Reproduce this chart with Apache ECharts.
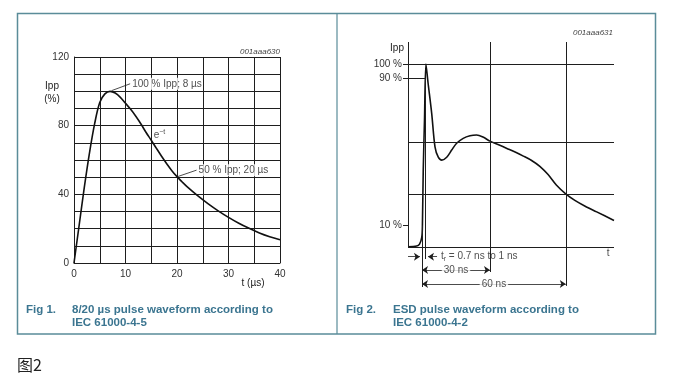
<!DOCTYPE html>
<html><head><meta charset="utf-8">
<script src="https://cdn.jsdelivr.net/npm/echarts@6/dist/echarts.min.js"></script>
<style>html,body{margin:0;padding:0;background:#fff}#c{width:679px;height:379px}</style>
</head><body><div id="c"></div>
<script>
// ---- Fig 1: 8/20 us pulse (t in us, Ipp in %) ----
const leftT = [0,1,2,3,4,5,6,7,8,9,10,11,12,13,14,15,16,17,18,19,20,21,22,24,26,28,30,32,34,36,38,40];
const leftI = [0,22,44,64,81,93.5,98.5,100,99,96.5,93,89.5,85.5,81,76,71.5,66.8,62.2,57.8,53.8,50.3,47.2,44.3,39.2,34.6,30.4,26.6,23.2,20.2,17.5,15.3,13.5];
const leftXLabels = [0,10,20,30,40];
const leftYLabels = [0,40,80,120];
const leftPeakNote = '100 % Ipp; 8 \u00b5s';
const leftHalfNote = '50 % Ipp; 20 \u00b5s';

// ---- Fig 2: ESD pulse (t in arbitrary ns-scale units, Ipp in %) ----
const rightT = [0,4.2,5.6,6.7,7.0,7.4,8.0,8.7,9.7,11.5,13.1,14.7,16.4,18.8,21.2,23.6,26.8,30.1,33.3,36.4,39.8,44,48,52,56,60,64,68,72,76.7,81,86,91.6,100];
const rightI = [0,0.4,1.5,5.3,11.9,42,69,100,90,73,54.7,49,47.4,49,52.9,56.6,59.3,60.7,61.1,60,57.8,55.8,53.8,51.8,49.6,47.2,44,39.5,33.8,28.8,25.4,22.2,19.1,14.4];
const rightYTickValues = [11.7, 92.3, 100];
const rightYTickLabels = ['10 %', '90 %', '100 %'];
const rightHLevels = [100, 57.4, 28.8];     // horizontal reference lines
const rightT10 = 6.8, rightT90 = 8.6;      // 10 % and 90 % crossing times
const rightT30 = 39.8, rightT60 = 76.6;    // 30 ns and 60 ns reference times
const riseNote = '{t|t}{s|r}{t| = 0.7 ns to 1 ns}';
const span30Note = '30 ns', span60Note = '60 ns';

const FONT = '"Liberation Sans", Arial, sans-serif';
const INK = '#1e1e1e';

const chart = echarts.init(document.getElementById('c'), null, {renderer: 'canvas'});

function seg(x1, y1, x2, y2) {
  return [{coord: [x1, y1]}, {coord: [x2, y2]}];
}

const rightLines = [];
rightLines.push(seg(0, 0, 0, 112));                  // y axis
rightLines.push(seg(0, 0, 100, 0));                  // baseline
rightHLevels.forEach(v => rightLines.push(seg(0, v, 100, v)));
rightLines.push(seg(0, rightYTickValues[1], rightT90, rightYTickValues[1]));  // 90 % guide
rightLines.push(seg(rightT30, 112, rightT30, -13.8));
rightLines.push(seg(rightT60, 112, rightT60, -21.4));
rightLines.push(seg(rightT10, rightYTickValues[0], rightT10, -22));
rightLines.push(seg(rightT90, rightYTickValues[1], rightT90, -6.7));

const arrowRows = [
  {data: seg(0, -5.4, 5.8, -5.4), symbol: ['none', 'arrow']},
  {data: seg(14.1, -5.4, 9.7, -5.4), symbol: ['none', 'arrow']},
  {data: seg(rightT10, -12.7, rightT30, -12.7), symbol: ['arrow', 'arrow']},
  {data: seg(rightT10, -20.3, rightT60, -20.3), symbol: ['arrow', 'arrow']}
];

const noteLabel = {show: true, color: '#222', fontSize: 10, fontFamily: FONT};

const option = {
  animation: false,
  backgroundColor: '#fff',
  textStyle: {fontFamily: FONT},
  grid: [
    {left: 74, right: 399, top: 57, bottom: 116},
    {left: 408, right: 65, top: 42, bottom: 92}
  ],
  xAxis: [
    {gridIndex: 0, type: 'value', min: 0, max: 40, interval: 5,
     axisLine: {lineStyle: {color: INK, width: 1}}, axisTick: {show: false},
     axisLabel: {color: '#333', fontSize: 10, margin: 6, fontFamily: FONT,
       formatter: v => leftXLabels.indexOf(v) >= 0 ? String(v) : ''},
     splitLine: {show: true, lineStyle: {color: INK, width: 1}}},
    {gridIndex: 1, type: 'value', min: 0, max: 100, show: false}
  ],
  yAxis: [
    {gridIndex: 0, type: 'value', min: 0, max: 120, interval: 10,
     axisLine: {show: true, lineStyle: {color: INK, width: 1}}, axisTick: {show: false},
     axisLabel: {color: '#333', fontSize: 10, margin: 5, fontFamily: FONT,
       formatter: v => leftYLabels.indexOf(v) >= 0 ? String(v) : ''},
     splitLine: {show: true, lineStyle: {color: INK, width: 1}}},
    {gridIndex: 1, type: 'value', min: -22, max: 112,
     axisLine: {show: false},
     axisTick: {show: true, customValues: rightYTickValues, length: 5, lineStyle: {color: INK}},
     axisLabel: {show: true, customValues: rightYTickValues, color: '#333', fontSize: 10, margin: 6, fontFamily: FONT,
       formatter: v => { const i = rightYTickValues.indexOf(v); return i >= 0 ? rightYTickLabels[i] : ''; }},
     splitLine: {show: false}}
  ],
  series: [
    {type: 'line', xAxisIndex: 0, yAxisIndex: 0, data: leftT.map((t, i) => [t, leftI[i]]),
     smooth: 0.35, showSymbol: false, lineStyle: {color: '#111', width: 1.6},
     markLine: {silent: true, symbol: 'none', label: {show: false}, lineStyle: {color: INK, width: 0.8, type: 'solid'},
       data: [seg(7.3, 100.4, 10.9, 104.4), seg(20.2, 50.4, 23.8, 54.1)]}},
    {type: 'scatter', xAxisIndex: 0, yAxisIndex: 0, symbolSize: 0, silent: true, z: 5,
     label: noteLabel,
     data: [
       {value: [10.9, 104.4], label: {position: 'right', distance: 1, formatter: leftPeakNote, backgroundColor: '#fff', padding: [1, 1]}},
       {value: [23.8, 54.1], label: {position: 'right', distance: 1, formatter: leftHalfNote, backgroundColor: '#fff', padding: [1, 1]}},
       {value: [16.6, 74.5], label: {position: 'inside', formatter: '{e|e}{s|\u2212t}',
         rich: {e: {fontSize: 10, color: '#222'}, s: {fontSize: 7, color: '#222', verticalAlign: 'top', padding: [0, 0, 6, 0]}}}}
     ]},
    {type: 'line', xAxisIndex: 1, yAxisIndex: 1, data: rightT.map((t, i) => [t, rightI[i]]),
     smooth: 0.3, showSymbol: false, lineStyle: {color: '#111', width: 1.6},
     markLine: {silent: true, symbol: 'none', label: {show: false}, lineStyle: {color: INK, width: 1, type: 'solid'},
       data: rightLines}},
  ].concat(arrowRows.map(r => ({
    type: 'line', xAxisIndex: 1, yAxisIndex: 1, data: [], silent: true,
    markLine: {silent: true, symbol: r.symbol, symbolSize: 6,
      lineStyle: {color: INK, width: 0.8, type: 'solid'},
      label: {show: false},
      data: [r.data]}
  }))).concat([
    {type: 'scatter', xAxisIndex: 1, yAxisIndex: 1, symbolSize: 0, silent: true, z: 5,
     label: noteLabel,
     data: [
       {value: [15.5, -5.4], label: {position: 'right', distance: 1, formatter: riseNote,
         rich: {t: {fontSize: 10, color: '#222'}, s: {fontSize: 7, color: '#222', verticalAlign: 'bottom', padding: [5, 0, 0, 0]}}}},
       {value: [97.1, -3.4], label: {position: 'inside', formatter: 't'}},
       {value: [(rightT10 + rightT30) / 2, -12.7], label: {position: 'inside', formatter: span30Note, backgroundColor: '#fff', padding: [0, 2]}},
       {value: [(rightT10 + rightT60) / 2, -20.3], label: {position: 'inside', formatter: span60Note, backgroundColor: '#fff', padding: [0, 2]}}
     ]}
  ]),
  graphic: [
    {type: 'rect', shape: {x: 17.5, y: 13.5, width: 638, height: 320.5}, style: {fill: 'none', stroke: '#5a8c99', lineWidth: 1.5}, silent: true},
    {type: 'line', shape: {x1: 337, y1: 13.5, x2: 337, y2: 334}, style: {stroke: '#5a8c99', lineWidth: 1.2}, silent: true},
    {type: 'text', x: 280, y: 52, style: {text: '001aaa630', fill: '#444', font: 'italic 8px ' + FONT, align: 'right', verticalAlign: 'middle'}},
    {type: 'text', x: 613, y: 33, style: {text: '001aaa631', fill: '#444', font: 'italic 8px ' + FONT, align: 'right', verticalAlign: 'middle'}},
    {type: 'text', x: 52, y: 86, style: {text: 'Ipp', fill: '#222', font: '10px ' + FONT, align: 'center', verticalAlign: 'middle'}},
    {type: 'text', x: 52, y: 99, style: {text: '(%)', fill: '#222', font: '10px ' + FONT, align: 'center', verticalAlign: 'middle'}},
    {type: 'text', x: 253, y: 283, style: {text: 't (\u00b5s)', fill: '#222', font: '10px ' + FONT, align: 'center', verticalAlign: 'middle'}},
    {type: 'text', x: 397, y: 48, style: {text: 'Ipp', fill: '#222', font: '10px ' + FONT, align: 'center', verticalAlign: 'middle'}},
    {type: 'text', x: 26, y: 310, style: {text: 'Fig 1.', fill: '#3b7590', font: 'bold 11.5px ' + FONT, verticalAlign: 'middle'}},
    {type: 'text', x: 72, y: 310, style: {text: '8/20 \u00b5s pulse waveform according to', fill: '#3b7590', font: 'bold 11.5px ' + FONT, verticalAlign: 'middle'}},
    {type: 'text', x: 72, y: 323, style: {text: 'IEC 61000-4-5', fill: '#3b7590', font: 'bold 11.5px ' + FONT, verticalAlign: 'middle'}},
    {type: 'text', x: 346, y: 310, style: {text: 'Fig 2.', fill: '#3b7590', font: 'bold 11.5px ' + FONT, verticalAlign: 'middle'}},
    {type: 'text', x: 393, y: 310, style: {text: 'ESD pulse waveform according to', fill: '#3b7590', font: 'bold 11.5px ' + FONT, verticalAlign: 'middle'}},
    {type: 'text', x: 393, y: 323, style: {text: 'IEC 61000-4-2', fill: '#3b7590', font: 'bold 11.5px ' + FONT, verticalAlign: 'middle'}},
    {type: 'text', x: 17, y: 365, style: {text: '图2', fill: '#222', font: '16px "Noto Sans CJK SC", sans-serif', verticalAlign: 'middle'}}
  ]
};
chart.setOption(option);
</script>
</body></html>
